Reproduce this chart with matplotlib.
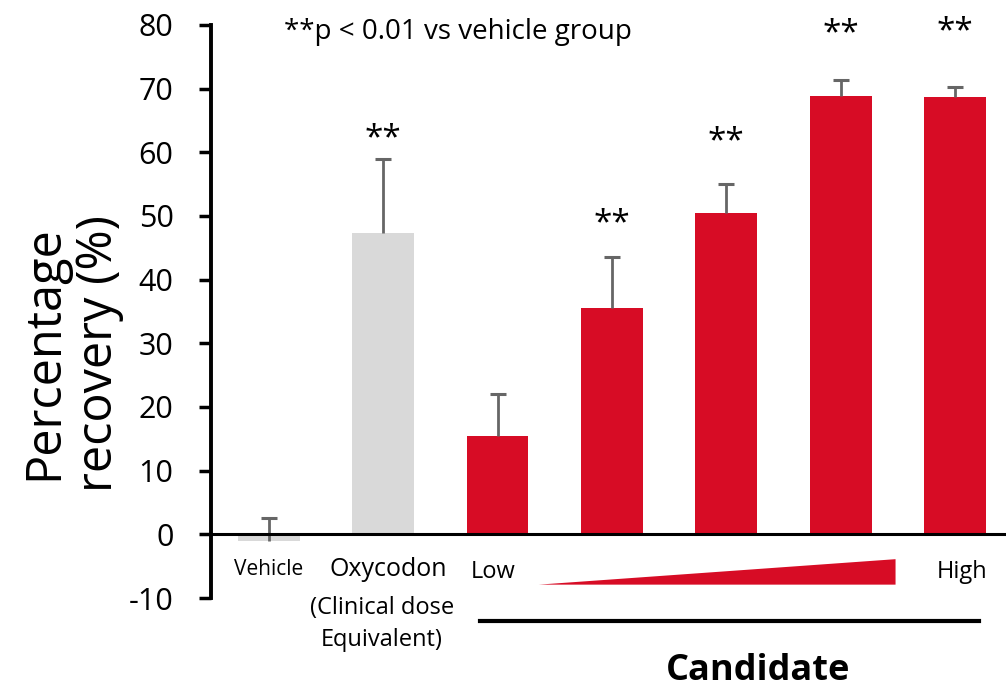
import numpy as np
import matplotlib
matplotlib.use("Agg")
import matplotlib.pyplot as plt
from matplotlib.patches import Polygon

plt.rcParams['font.family'] = ['Open Sans', 'DejaVu Sans']
plt.rcParams['axes.unicode_minus'] = False

# data
groups = ['Vehicle', 'Oxycodon', 'C1', 'C2', 'C3', 'C4', 'C5']
means = [-1.1, 47.3, 15.5, 35.6, 50.4, 68.9, 68.7]
err_top = [2.5, 58.9, 22.0, 43.6, 55.1, 71.4, 70.2]
significant = [False, True, False, True, True, True, True]
star_y = [0, 62.1, 0, 48.7, 61.7, 78.6, 79.0]

red = '#D70C25'
grey = '#D9D9D9'
colors = [grey, grey] + [red] * 5

fig = plt.figure(figsize=(10.06, 6.88), dpi=100)
ax = fig.add_axes([0.2097, 0.1308, 0.7903, 0.8329])

x = np.arange(len(groups))
ax.bar(x, means, width=0.54, color=colors, zorder=2)

# one-sided error bars (upwards only)
ax.vlines(x, means, err_top, color='#666666', lw=2, zorder=3)
ax.plot(x, err_top, ls='none', marker='_', ms=11, mew=2.2, color='#666666', zorder=3)

ax.axhline(0, color='black', lw=2.2, zorder=4)

for xi, sig, sy in zip(x, significant, star_y):
    if sig:
        ax.text(xi, sy, '**', ha='center', va='center', fontsize=24)

ax.text(1.65, 78.9, '**p < 0.01 vs vehicle group', ha='center', va='center',
        fontsize=20)

ax.set_xlim(-0.507, 6.446)
ax.set_ylim(-10, 80)
ax.set_yticks(np.arange(-10, 81, 10))
ax.tick_params(axis='y', labelsize=22, width=2.5, length=9, direction='out', pad=18)
ax.set_xticks([])
for s in ['top', 'right', 'bottom']:
    ax.spines[s].set_visible(False)
ax.spines['left'].set_linewidth(2.8)

# labels under the axis
ax.text(0, -5.6, 'Vehicle', ha='center', va='center', fontsize=15, clip_on=False)
ax.text(1.04, -5.6, 'Oxycodon', ha='center', va='center', fontsize=18, clip_on=False)
ax.text(0.99, -11.5, '(Clinical dose', ha='center', va='center', fontsize=17, clip_on=False)
ax.text(0.99, -16.6, 'Equivalent)', ha='center', va='center', fontsize=17, clip_on=False)
ax.text(1.96, -5.9, 'Low', ha='center', va='center', fontsize=17, clip_on=False)
ax.text(6.06, -5.9, 'High', ha='center', va='center', fontsize=17, clip_on=False)

tri = Polygon([[2.36, -7.9], [5.48, -3.9], [5.48, -7.9]], closed=True,
              facecolor=red, edgecolor='none', clip_on=False)
ax.add_patch(tri)
ax.plot([1.85, 6.21], [-13.6, -13.6], color='black', lw=3, clip_on=False)
ax.text(4.28, -21.4, 'Candidate', ha='center', va='center', fontsize=26,
        fontweight='bold', clip_on=False)

fig.text(45 / 1006, 1 - 353 / 688, 'Percentage', rotation=90, ha='center',
         va='center', fontsize=35)
fig.text(99 / 1006, 1 - 353 / 688, 'recovery (%)', rotation=90, ha='center',
         va='center', fontsize=35)

fig.savefig('out.png', dpi=100)
